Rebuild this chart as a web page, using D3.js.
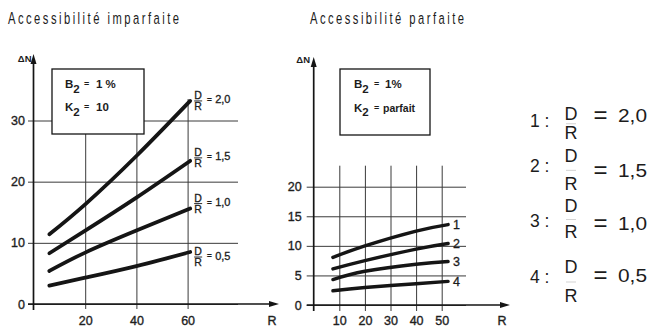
<!DOCTYPE html>
<html>
<head>
<meta charset="utf-8">
<script src="https://cdn.jsdelivr.net/npm/d3@7"></script>
<style>
  html, body { margin: 0; padding: 0; background: #fff; }
  svg { display: block; }
  text { font-family: "Liberation Sans", Arial, Helvetica, sans-serif; fill: #1c1c1c; }
</style>
</head>
<body>
<script>
// ---- data -------------------------------------------------------------
// Left panel: imperfect accessibility (B2 = 1 %, K2 = 10)
const leftR = [6, 20, 40, 61];
const leftRatios = ["2,0", "1,5", "1,0", "0,5"];
const leftDeltaN = [
  [11.4, 16.3, 24.2, 33.2],   // D/R = 2,0
  [8.3, 12.0, 17.4, 23.4],    // D/R = 1,5
  [5.4, 8.4, 12.0, 15.6],     // D/R = 1,0
  [3.0, 4.3, 6.2, 8.5]        // D/R = 0,5
];
const leftYTicks = [0, 10, 20, 30];
const leftXTicks = [20, 40, 60];

// Right panel: perfect accessibility (B2 = 1 %, K2 = parfait)
const rightR = [7.5, 20, 40, 52.5];
const rightIds = ["1", "2", "3", "4"];
const rightDeltaN = [
  [8.05, 10.0, 12.5, 13.6],   // 1 : D/R = 2,0
  [6.1, 7.5, 9.45, 10.4],     // 2 : D/R = 1,5
  [4.3, 5.7, 6.9, 7.35],      // 3 : D/R = 1,0
  [2.4, 2.95, 3.6, 4.0]       // 4 : D/R = 0,5
];
const rightYTicks = [0, 5, 10, 15, 20];
const rightXTicks = [10, 20, 30, 40, 50];

// ---- drawing ----------------------------------------------------------
const W = 651, H = 329;
const ink = "#151515", gridInk = "#3a3a3a";

const svg = d3.select("body").append("svg")
  .attr("width", W).attr("height", H)
  .attr("viewBox", `0 0 ${W} ${H}`);

function arrowUp(x, tipY) {
  svg.append("path").attr("d", `M${x},${tipY} L${x - 3},${tipY + 10} L${x + 3},${tipY + 10} Z`).attr("fill", ink);
}
function arrowRight(tipX, y) {
  svg.append("path").attr("d", `M${tipX},${y} L${tipX - 10},${y - 3} L${tipX - 10},${y + 3} Z`).attr("fill", ink);
}
function styleAxis(g) {
  g.select(".domain").remove();
  g.selectAll(".tick line").attr("stroke", gridInk).attr("stroke-width", 1);
  g.selectAll(".tick text")
    .attr("font-size", 12.5)
    .attr("fill", "#222").attr("stroke", "#222").attr("stroke-width", 0.35)
    .style("font-family", "'Liberation Sans', Arial, sans-serif");
}
// condensed, letter-spaced heading
function title(x, y, str, len) {
  const sx = 0.68;
  svg.append("text")
    .attr("transform", `translate(${x},${y}) scale(${sx},1)`)
    .attr("font-size", 16.5)
    .attr("textLength", len / sx).attr("lengthAdjust", "spacing")
    .attr("fill", "#2a2a2a")
    .text(str);
}
function paramBox(x, y, w, h, lines) {
  svg.append("rect").attr("x", x).attr("y", y).attr("width", w).attr("height", h)
    .attr("fill", "#fff").attr("stroke", ink).attr("stroke-width", 1.3);
  lines.forEach(l => {
    const t = svg.append("text").attr("x", l.x).attr("y", l.y)
      .attr("font-size", 11.5).attr("font-weight", "bold");
    t.append("tspan").text(l.sym);
    t.append("tspan").attr("dy", 4.5).attr("font-size", 11.5).text("2");
    svg.append("text").attr("x", l.eqX).attr("y", l.y - 1)
      .attr("font-size", 9).attr("font-weight", "bold").text("=");
    svg.append("text").attr("x", l.valX).attr("y", l.y)
      .attr("font-size", l.valSize || 11.5).attr("font-weight", "bold").text(l.val);
  });
}

const line = (xs, ys) => d3.line()
  .x(d => xs(d[0])).y(d => ys(d[1]))
  .curve(d3.curveNatural);

// ===== Left panel =====
title(8, 24, "Accessibilité imparfaite", 171);

const xL = d3.scaleLinear().domain([0, 60]).range([34, 187.6]);
const yL = d3.scaleLinear().domain([0, 30]).range([304, 120.5]);
const leftAxisX = 33.5;

// horizontal grid + y tick labels
svg.append("g").attr("transform", "translate(28,0)")
  .call(d3.axisLeft(yL).tickValues(leftYTicks).tickSize(-210).tickPadding(3).tickFormat(d3.format("d")))
  .call(styleAxis);
// vertical grid + x tick labels
svg.append("g").attr("transform", "translate(0,309)")
  .call(d3.axisBottom(xL).tickValues(leftXTicks).tickSize(-(309 - yL(33.5))).tickPadding(7).tickFormat(d3.format("d")))
  .call(styleAxis);

// axes with arrows
svg.append("line").attr("x1", leftAxisX).attr("x2", leftAxisX).attr("y1", 310).attr("y2", 60)
  .attr("stroke", ink).attr("stroke-width", 1.7);
arrowUp(leftAxisX, 54);
svg.append("line").attr("x1", 28).attr("x2", 272).attr("y1", yL(0)).attr("y2", yL(0))
  .attr("stroke", ink).attr("stroke-width", 1.7);
arrowRight(279, yL(0));
svg.append("text").attr("x", 31.5).attr("y", 61.5).attr("text-anchor", "end")
  .attr("font-size", 9.5).attr("font-weight", "bold").text("ΔN");
svg.append("text").attr("x", 272).attr("y", 325).attr("text-anchor", "middle")
  .attr("font-size", 12.5).attr("stroke", "#222").attr("stroke-width", 0.35).text("R");

paramBox(52, 69, 92, 65, [
  { sym: "B", x: 65, y: 88, eqX: 84, valX: 96, val: "1 %" },
  { sym: "K", x: 65, y: 111, eqX: 84, valX: 96, val: "10" }
]);

// curves
const leftLabelShift = [0, -3, -5, 5];
leftDeltaN.forEach((vals, i) => {
  const pts = leftR.map((r, j) => [r, vals[j]]);
  svg.append("path").attr("d", line(xL, yL)(pts))
    .attr("fill", "none").attr("stroke", ink).attr("stroke-width", 3.8)
    .attr("stroke-linecap", "round");
  const ex = xL(leftR[leftR.length - 1]);
  const ly = yL(vals[vals.length - 1]) + leftLabelShift[i];
  const fx = ex + 8;
  svg.append("text").attr("x", fx).attr("y", ly - 1.8).attr("text-anchor", "middle")
    .attr("font-size", 10.5).attr("stroke", "#1c1c1c").attr("stroke-width", 0.3).text("D");
  svg.append("line").attr("x1", fx - 4).attr("x2", fx + 4).attr("y1", ly).attr("y2", ly)
    .attr("stroke", ink).attr("stroke-width", 0.9);
  svg.append("text").attr("x", fx).attr("y", ly + 9.3).attr("text-anchor", "middle")
    .attr("font-size", 10.5).attr("stroke", "#1c1c1c").attr("stroke-width", 0.3).text("R");
  svg.append("text").attr("x", fx + 8.5).attr("y", ly + 2).attr("font-size", 9)
    .attr("font-weight", "bold").text("=");
  svg.append("text").attr("x", fx + 17).attr("y", ly + 2.5).attr("font-size", 11)
    .attr("stroke", "#1c1c1c").attr("stroke-width", 0.3).text(leftRatios[i]);
});

// ===== Right panel =====
title(310, 24, "Accessibilité parfaite", 154);

const xR = d3.scaleLinear().domain([0, 50]).range([313.7, 441.7]);
const yR = d3.scaleLinear().domain([0, 20]).range([305, 186.7]);

svg.append("g").attr("transform", "translate(306.7,0)")
  .call(d3.axisLeft(yR).tickValues(rightYTicks).tickSize(-(466 - 306.7)).tickPadding(5).tickFormat(d3.format("d")))
  .call(styleAxis);
svg.append("g").attr("transform", "translate(0,311)")
  .call(d3.axisBottom(xR).tickValues(rightXTicks).tickSize(-(311 - 165.7)).tickPadding(5).tickFormat(d3.format("d")))
  .call(styleAxis);

svg.append("line").attr("x1", xR(0)).attr("x2", xR(0)).attr("y1", 311).attr("y2", 63)
  .attr("stroke", ink).attr("stroke-width", 1.7);
arrowUp(xR(0), 57);
svg.append("line").attr("x1", 306.7).attr("x2", 503).attr("y1", yR(0)).attr("y2", yR(0))
  .attr("stroke", ink).attr("stroke-width", 1.7);
arrowRight(510, yR(0));
svg.append("text").attr("x", 310).attr("y", 63).attr("text-anchor", "end")
  .attr("font-size", 9.5).attr("font-weight", "bold").text("ΔN");
svg.append("text").attr("x", 502).attr("y", 325).attr("text-anchor", "middle")
  .attr("font-size", 12.5).attr("stroke", "#222").attr("stroke-width", 0.35).text("R");

paramBox(340, 69, 90, 66, [
  { sym: "B", x: 354, y: 88, eqX: 374, valX: 385, val: "1%" },
  { sym: "K", x: 354, y: 111.5, eqX: 374, valX: 383, val: "parfait", valSize: 10.5 }
]);

rightDeltaN.forEach((vals, i) => {
  const pts = rightR.map((r, j) => [r, vals[j]]);
  svg.append("path").attr("d", line(xR, yR)(pts))
    .attr("fill", "none").attr("stroke", ink).attr("stroke-width", 3.4)
    .attr("stroke-linecap", "round");
  const ex = xR(rightR[rightR.length - 1]);
  const ey = yR(vals[vals.length - 1]);
  svg.append("text").attr("x", ex + 5).attr("y", ey + 4.5).attr("font-size", 12.5)
    .attr("stroke", "#1c1c1c").attr("stroke-width", 0.3).text(rightIds[i]);
});

// ===== Key for the numbered curves =====
const keyRows = [
  { id: 127, d: 120, r: 138.5, v: 121.7 },
  { id: 171.7, d: 161.7, r: 190, v: 176.7 },
  { id: 226.7, d: 211.7, r: 238.3, v: 230 },
  { id: 283.3, d: 273.3, r: 301.7, v: 281.7 }
];
keyRows.forEach((row, i) => {
  svg.append("text").attr("x", 530).attr("y", row.id).attr("font-size", 17.5)
    .text(rightIds[i] + " :");
  svg.append("text").attr("x", 571).attr("y", row.d).attr("text-anchor", "middle")
    .attr("font-size", 18).text("D");
  svg.append("line").attr("x1", 566).attr("x2", 576)
    .attr("y1", (row.d + row.r) / 2 - 5.5).attr("y2", (row.d + row.r) / 2 - 5.5)
    .attr("stroke", "#c8c8c8").attr("stroke-width", 0.8);
  svg.append("text").attr("x", 571).attr("y", row.r).attr("text-anchor", "middle")
    .attr("font-size", 18).text("R");
  svg.append("text").attr("x", 600.5).attr("y", row.v + 1).attr("text-anchor", "middle")
    .attr("font-size", 24).text("=");
  svg.append("text").attr("x", 618).attr("y", row.v).attr("font-size", 18)
    .attr("textLength", 29).attr("lengthAdjust", "spacingAndGlyphs")
    .text(leftRatios[i]);
});
</script>
</body>
</html>
